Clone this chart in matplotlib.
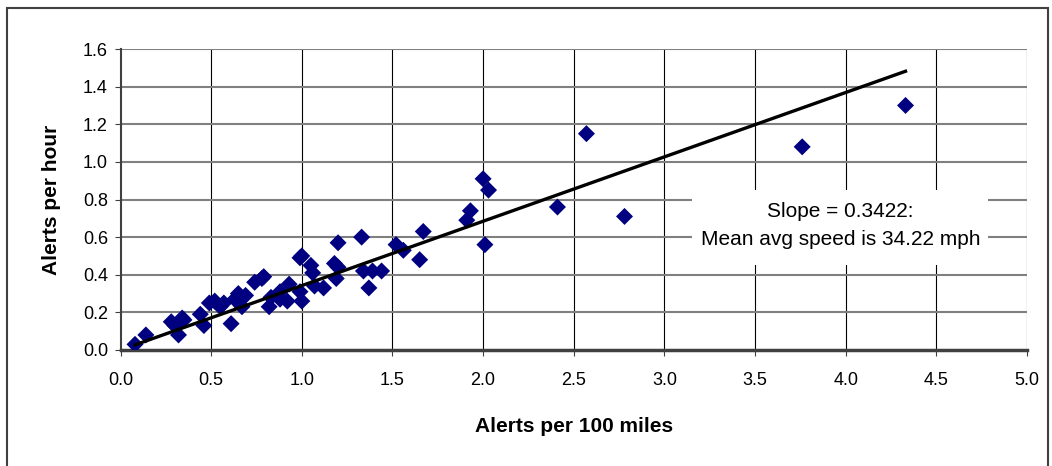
import matplotlib.pyplot as plt
from matplotlib.patches import Rectangle

plt.rcParams['font.family'] = ['Liberation Sans', 'DejaVu Sans']

# alertas por 100 milhas x alertas por hora
alerts_per_100mi = [0.08, 0.14, 0.28, 0.30, 0.32, 0.34, 0.35, 0.44, 0.46, 0.49,
                    0.52, 0.55, 0.57, 0.61, 0.63, 0.65, 0.67, 0.69, 0.74, 0.78,
                    0.79, 0.82, 0.83, 0.88, 0.88, 0.92, 0.93, 0.99, 1.00, 0.99,
                    1.00, 1.05, 1.06, 1.07, 1.12, 1.18, 1.20, 1.20, 1.19, 1.33,
                    1.34, 1.39, 1.37, 1.44, 1.52, 1.56, 1.65, 1.67, 1.91, 1.93,
                    2.00, 2.03, 2.01, 2.41, 2.57, 2.78, 3.76, 4.33]
alerts_per_hour = [0.03, 0.08, 0.15, 0.13, 0.08, 0.17, 0.16, 0.19, 0.13, 0.25,
                   0.26, 0.23, 0.25, 0.14, 0.27, 0.30, 0.23, 0.29, 0.36, 0.38,
                   0.39, 0.23, 0.28, 0.31, 0.27, 0.26, 0.35, 0.49, 0.50, 0.31,
                   0.26, 0.45, 0.41, 0.34, 0.33, 0.46, 0.44, 0.57, 0.38, 0.60,
                   0.42, 0.42, 0.33, 0.42, 0.56, 0.53, 0.48, 0.63, 0.69, 0.74,
                   0.91, 0.85, 0.56, 0.76, 1.15, 0.71, 1.08, 1.30]
slope = 0.3422

xticks = [0.0, 0.5, 1.0, 1.5, 2.0, 2.5, 3.0, 3.5, 4.0, 4.5, 5.0]
yticks = [0.0, 0.2, 0.4, 0.6, 0.8, 1.0, 1.2, 1.4, 1.6]

W, H = 1052, 466
fig = plt.figure(figsize=(W / 100, H / 100), dpi=100)
ax = fig.add_axes([120.5 / W, 116 / H, (1027 - 120.5) / W, (350 - 49) / H])

# moldura externa do gráfico
fig.patches.append(Rectangle((7 / W, -0.05), (1048 - 7) / W, (458 - 0) / H + 0.05,
                             transform=fig.transFigure, fill=False,
                             edgecolor='#404040', linewidth=1.5))

ax.set_xlim(0, 5)
ax.set_ylim(0, 1.6)
ax.set_xticks(xticks)
ax.set_yticks(yticks)
ax.set_xticklabels([f"{t:.1f}" for t in xticks])
ax.set_yticklabels([f"{t:.1f}" for t in yticks])
ax.tick_params(labelsize=13, length=4, color='#404040')
ax.tick_params(axis='x', pad=12)
ax.tick_params(axis='y', pad=5)

for x in xticks[1:]:
    ax.axvline(x, color='black', linewidth=0.8, zorder=1)
for y in yticks[1:]:
    ax.axhline(y, color='#808080', linewidth=1.5, zorder=1)

for side in ['top', 'right']:
    ax.spines[side].set_visible(False)
ax.spines['left'].set_color('#404040')
ax.spines['left'].set_linewidth(1.5)
ax.spines['bottom'].set_color('#404040')
ax.spines['bottom'].set_linewidth(2.5)

ax.scatter(alerts_per_100mi, alerts_per_hour, marker='D', s=75,
           color='#000080', edgecolors='none', zorder=3)

x0, x1 = min(alerts_per_100mi), max(alerts_per_100mi)
ax.plot([x0, x1], [slope * x0, slope * x1], color='black', linewidth=2.4, zorder=4)

# caixa branca da anotação (cobre a grade)
ax.add_patch(Rectangle((3.152, 0.452), 4.785 - 3.152, 0.851 - 0.452,
                       facecolor='white', edgecolor='none', zorder=2))
ax.text(3.97, 0.66, "Slope = 0.3422:\nMean avg speed is 34.22 mph",
        ha='center', va='center', fontsize=15, linespacing=1.6, zorder=5)

ax.set_xlabel("Alerts per 100 miles", fontsize=15, fontweight='bold', labelpad=20)
ax.set_ylabel("Alerts per hour", fontsize=15, fontweight='bold', labelpad=16)

fig.savefig('out.png', dpi=100)
